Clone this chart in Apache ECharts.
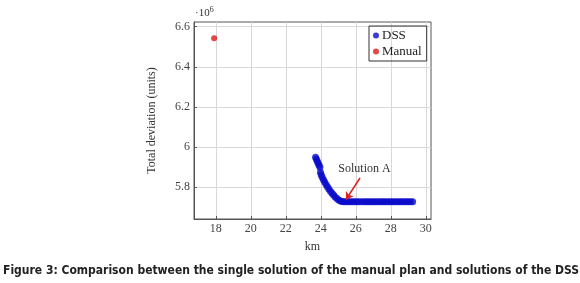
<!DOCTYPE html>
<html>
<head>
<meta charset="utf-8">
<script src="https://cdn.jsdelivr.net/npm/echarts@6/dist/echarts.min.js"></script>
<style>
html,body{margin:0;padding:0;background:#fff;}
#chart{width:580px;height:283px;}
</style>
</head>
<body>
<div id="chart"></div>
<script>
// values (km, total deviation in 10^6 units)
var dssKm = [23.70,23.75,23.80,23.85,23.90,23.95,
	23.98,24.02,24.08,24.15,24.22,24.30,24.38,24.46,24.55,24.64,24.73,24.82,24.92,25.02,25.12,25.22,25.32,
	25.45,25.58,25.70,25.82,25.95,26.08,26.20,26.35,26.50,26.62,26.75,26.88,27.00,27.12,27.25,27.38,27.50,
	27.62,27.75,27.88,28.00,28.12,28.25,28.38,28.50,28.62,28.75,28.88,29.00,29.12,29.25];
var dssDev = [5.950,5.940,5.930,5.920,5.910,5.900,
	5.875,5.862,5.850,5.838,5.826,5.814,5.802,5.791,5.780,5.770,5.761,5.752,5.744,5.737,5.732,5.729,5.728,
	5.728,5.728,5.728,5.728,5.728,5.728,5.728,5.728,5.728,5.728,5.728,5.728,5.728,5.728,5.728,5.728,5.728,
	5.728,5.728,5.728,5.728,5.728,5.728,5.728,5.728,5.728,5.728,5.728,5.728,5.728,5.728];
var manualKm = [17.9];
var manualDev = [6.542];
var xTicks = [18,20,22,24,26,28,30];
var yTicks = [5.8,6,6.2,6.4,6.6];
var solutionA = {label:'Solution A', text:[26.5,5.891], from:[26.24,5.846], to:[25.44,5.739]};

var serif = 'Liberation Serif';
var chart = echarts.init(document.getElementById('chart'));

function pairs(xs, ys){
	var out = [];
	for(var i=0;i<xs.length;i++){
		out.push([xs[i], ys[i]]);
	}
	return out;
}

var option = {
	animation:false,
	textStyle:{fontFamily:serif},
	grid:{
		show:true,
		left:194, right:149, top:22, bottom:64,
		borderColor:'#555', borderWidth:1
	},
	legend:{
		orient:'vertical',
		left:369, top:26,
		borderColor:'#333', borderWidth:1,
		padding:[3,5,3,4],
		itemWidth:6, itemHeight:6, itemGap:3,
		textStyle:{fontFamily:serif, fontSize:13, color:'#222', padding:[0,0,0,-2]},
		data:[{name:'DSS', icon:'circle'},{name:'Manual', icon:'circle'}]
	},
	xAxis:{
		type:'value',
		min:16.75, max:30.3,
		name:'km', nameLocation:'middle', nameGap:22,
		nameTextStyle:{fontFamily:serif, fontSize:12, color:'#333'},
		axisLine:{lineStyle:{color:'#555'}},
		axisTick:{show:true, inside:true, length:3, customValues:xTicks, lineStyle:{color:'#555'}},
		axisLabel:{customValues:xTicks, fontFamily:serif, fontSize:12, color:'#444', margin:4},
		splitLine:{show:true, lineStyle:{color:'#d8d8d8'}}
	},
	yAxis:{
		type:'value',
		min:5.642, max:6.623,
		name:'Total deviation (units)', nameLocation:'middle', nameGap:36,
		nameTextStyle:{fontFamily:serif, fontSize:12, color:'#333'},
		axisLine:{show:true, lineStyle:{color:'#555'}},
		axisTick:{show:true, inside:true, length:3, customValues:yTicks, lineStyle:{color:'#555'}},
		axisLabel:{customValues:yTicks, fontFamily:serif, fontSize:12, color:'#444', margin:4,
			formatter:function(v){ return String(Math.round(v*10)/10); }},
		splitLine:{show:true, lineStyle:{color:'#d8d8d8'}}
	},
	series:[
		{
			name:'DSS',
			type:'scatter',
			symbol:'circle',
			symbolSize:7,
			itemStyle:{color:'#0a0acc'},
			data:pairs(dssKm, dssDev),
			markLine:{
				silent:true,
				symbol:['none','arrow'],
				symbolSize:7,
				lineStyle:{color:'#e02020', width:1.5, type:'solid'},
				label:{show:false},
				data:[[{coord:solutionA.from},{coord:solutionA.to}]]
			},
			markPoint:{
				silent:true,
				symbol:'circle', symbolSize:0,
				label:{show:true, formatter:solutionA.label, fontFamily:serif, fontSize:12, color:'#333'},
				data:[{coord:solutionA.text}]
			}
		},
		{
			name:'Manual',
			type:'scatter',
			symbol:'circle',
			symbolSize:6,
			itemStyle:{color:'#dc1c1c'},
			data:pairs(manualKm, manualDev)
		}
	],
	graphic:[
		{
			type:'text', left:195, top:6,
			style:{
				text:'{a|·10}{b|6}',
				rich:{
					a:{fontFamily:serif, fontSize:11, fill:'#333'},
					b:{fontFamily:serif, fontSize:8, fill:'#333', verticalAlign:'top', padding:[0,0,6,0]}
				}
			}
		},
		{
			type:'text', left:3, top:265,
			style:{
				text:'Figure 3: Comparison between the single solution of the manual plan and solutions of the DSS',
				fontFamily:'DejaVu Sans Condensed', fontWeight:'bold', fontSize:12, fill:'#222'
			}
		}
	]
};
chart.setOption(option);
</script>
</body>
</html>
